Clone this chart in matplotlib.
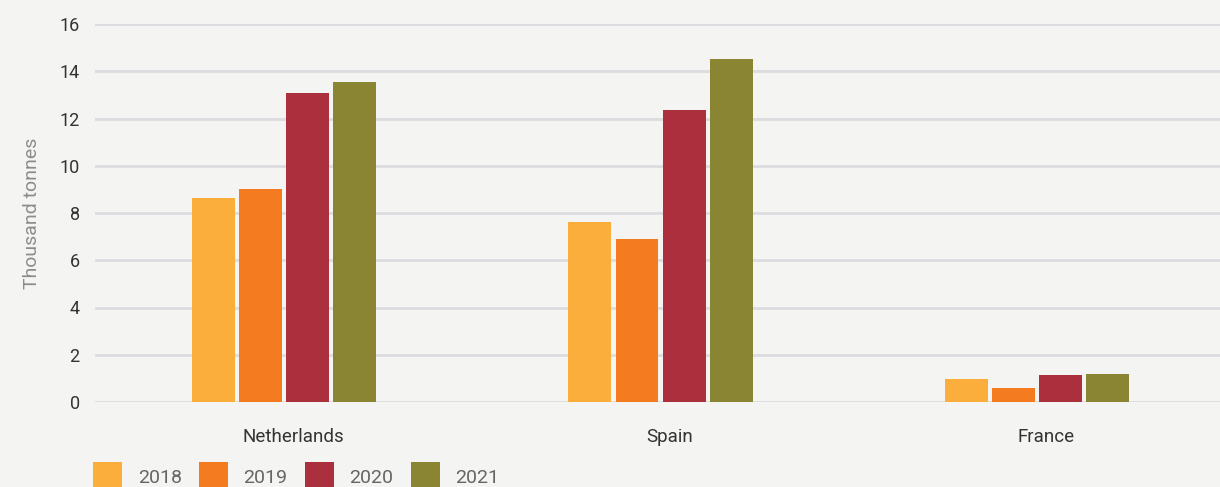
import numpy as np
import matplotlib.pyplot as plt
from matplotlib.transforms import ScaledTranslation

countries = ["Netherlands", "Spain", "France"]
years = ["2018", "2019", "2020", "2021"]
v2018 = [8.65, 7.6, 0.97]
v2019 = [9.0, 6.9, 0.6]
v2020 = [13.1, 12.37, 1.16]
v2021 = [13.55, 14.5, 1.2]
colors = ["#fbae3c", "#f47b20", "#ab2f3c", "#8a8532"]

plt.rcParams['font.family'] = ['Roboto', 'DejaVu Sans']

fig = plt.figure(figsize=(12.2, 4.87), dpi=100)
fig.patch.set_facecolor("#f4f4f2")
ax = fig.add_axes([95 / 1220, 1 - 402 / 487, 1 - 95 / 1220, (402 - 24) / 487])
ax.set_facecolor("none")

x = np.arange(len(countries))
w = 0.114
step = 0.125
for i, (vals, yr) in enumerate(zip([v2018, v2019, v2020, v2021], years)):
    ax.bar(x + (i - 1.5) * step, vals, w, color=colors[i], label=yr, zorder=3)

ax.set_xlim(-0.502, 2.486)
ax.set_ylim(0, 16)
ax.set_yticks(range(0, 17, 2))
ax.grid(axis='y', color="#dcdce0", linewidth=2, zorder=0)
for s in ax.spines.values():
    s.set_visible(False)

ax.set_xticks(x)
ax.set_xticklabels(countries)
ax.tick_params(axis='x', length=0, pad=19, labelsize=13.5, labelcolor="#333333")
ax.tick_params(axis='y', length=0, pad=11, labelsize=13, labelcolor="#333333")
# labels in the original sit a bit right of the bar groups
for lbl in ax.get_xticklabels():
    lbl.set_transform(lbl.get_transform() + ScaledTranslation(0.09, 0, fig.dpi_scale_trans))
ax.set_ylabel("Thousand tonnes", fontsize=14, color="#8c8c8c", labelpad=13)

leg = fig.legend(loc='upper left', bbox_to_anchor=(93 / 1220, 1 - 462 / 487),
                 ncol=4, frameon=False, fontsize=14, handlelength=1.5,
                 handleheight=1.9, handletextpad=0.8, columnspacing=0.88,
                 borderpad=0, borderaxespad=0)
for t in leg.get_texts():
    t.set_color("#666666")

fig.savefig("out.png", dpi=100, facecolor=fig.get_facecolor())
